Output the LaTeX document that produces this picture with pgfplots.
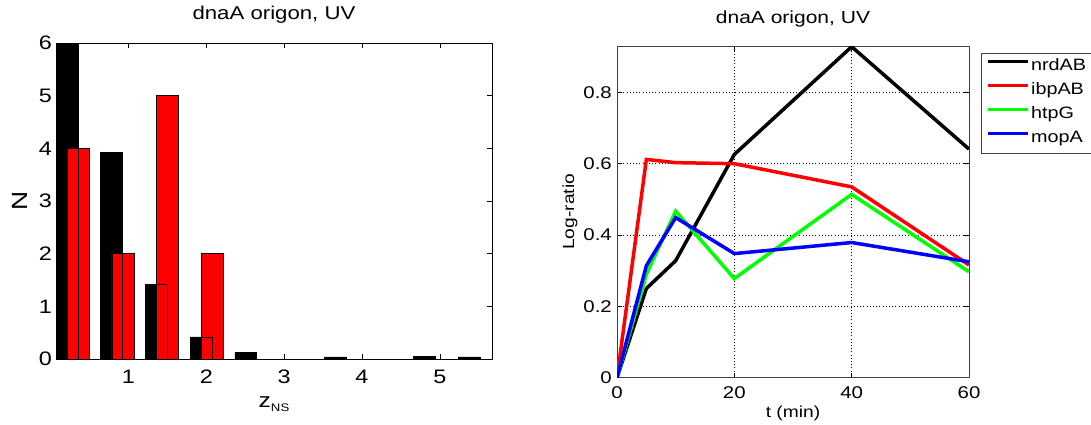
\documentclass[border=0pt]{standalone}
\usepackage{fontspec}
\setmainfont[FakeStretch=1.2]{Liberation Sans}
\usepackage{pgfplots}
\pgfplotsset{compat=1.18}
\begin{document}
\begin{tikzpicture}
\useasboundingbox (0,0) rectangle (1091pt,-425pt);
\begin{axis}[
  at={(56pt,-359pt)}, anchor=south west,
  scale only axis, width=436pt, height=316pt,
  xmin=0.07, xmax=5.67, ymin=0, ymax=6,
  xtick={1,2,3,4,5}, ytick={0,1,2,3,4,5,6},
  tick align=inside, major tick length=5pt,
  tick style={black, line width=0.6pt},
  axis line style={black, line width=0.8pt},
  /pgf/number format/assume math mode=true,
  ticklabel style={font=\fontsize{19.5}{22}\selectfont},
  xticklabel style={anchor=base, yshift=-24pt, inner sep=0pt},
  yticklabel style={anchor=east, inner sep=0pt, xshift=-4pt},
  title={dnaA origon, UV},
  title style={at={(axis description cs:0.5,1)}, anchor=base, yshift=18pt, font=\fontsize{18.5}{22}\selectfont, inner sep=0pt},
  xlabel={z\raisebox{-0.45ex}{\fontsize{11}{12}\selectfont NS}},
  xlabel style={at={(axis description cs:0.5,0)}, anchor=base, yshift=-48pt, font=\fontsize{20.5}{24}\selectfont, inner sep=0pt},
  ylabel={N},
  ylabel style={at={([xshift=-36pt]axis description cs:0,0.5)}, anchor=center, font=\fontsize{22}{24}\selectfont, inner sep=0pt},
]
\addplot[ybar, bar width=0.28, bar shift=0pt, fill=black, draw=black, line width=0.5pt] coordinates {(0.21,6) (0.784,3.93) (1.358,1.42) (1.932,0.42) (2.506,0.13) (3.654,0.04) (4.80,0.057) (5.376,0.04)};
\addplot[ybar, bar width=0.28, bar shift=0pt, fill=red, draw=black, line width=0.5pt] coordinates {(0.355,4) (0.929,2) (1.503,5) (2.077,2)};
\addplot[ybar, bar width=0.135, bar shift=0pt, fill=red, draw=black, line width=0.5pt] coordinates {(0.2825,4) (0.8565,2) (1.4305,1.42) (2.0045,0.42)};
\end{axis}
\begin{axis}[
  at={(617pt,-377.7pt)}, anchor=south west,
  scale only axis, width=352pt, height=331.7pt,
  xmin=0, xmax=60, ymin=0, ymax=0.93,
  xtick={0,20,40,60}, ytick={0,0.2,0.4,0.6,0.8},
  grid=major, grid style={black, line width=0.5pt, dash pattern=on 0.8pt off 2.4pt},
  tick align=inside, major tick length=5pt,
  tick style={black, line width=0.6pt},
  axis line style={black!75, line width=0.8pt},
  /pgf/number format/assume math mode=true,
  /pgf/number format/fixed,
  ticklabel style={font=\fontsize{17}{20}\selectfont},
  xticklabel style={anchor=base, yshift=-20.6pt, inner sep=0pt},
  yticklabel style={anchor=east, inner sep=0pt, xshift=-5pt},
  title={dnaA origon, UV},
  title style={at={(axis description cs:0.5,1)}, anchor=base, yshift=16.7pt, font=\fontsize{17.5}{21}\selectfont, inner sep=0pt},
  xlabel={t (min)},
  xlabel style={at={(axis description cs:0.5,0)}, anchor=base, yshift=-40pt, font=\fontsize{16}{19}\selectfont, inner sep=0pt},
  ylabel={Log-ratio},
  ylabel style={at={([xshift=-47pt]axis description cs:0,0.5)}, anchor=center, font=\fontsize{16}{19}\selectfont, inner sep=0pt},
  legend style={at={(axis description cs:1,1)}, anchor=north west, xshift=11.7pt, yshift=-6.7pt,
    draw=black!75, line width=0.8pt, fill=white, inner xsep=5pt, inner ysep=2pt,
    font=\fontsize{16.5}{19}\selectfont,
    nodes={inner xsep=1.5pt, inner ysep=3pt, text height=12.5pt, text depth=5.5pt}},
  legend cell align=left,
  legend image code/.code={\draw[#1] (0pt,5.5pt) -- (40pt,5.5pt);},
]
\addplot[black, line width=3.5pt] coordinates {(0,0) (5,0.25) (10,0.328) (20,0.626) (40,0.928) (60,0.641)};
\addplot[red, line width=3.5pt] coordinates {(0,0) (5,0.612) (10,0.603) (20,0.60) (40,0.535) (60,0.316)};
\addplot[green, line width=3.5pt] coordinates {(0,0) (5,0.29) (10,0.467) (20,0.278) (40,0.514) (60,0.297)};
\addplot[blue, line width=3.5pt] coordinates {(0,0) (5,0.314) (10,0.449) (20,0.348) (40,0.379) (60,0.325)};
\legend{nrdAB, ibpAB, htpG, mopA}
\end{axis}
\end{tikzpicture}
\end{document}
